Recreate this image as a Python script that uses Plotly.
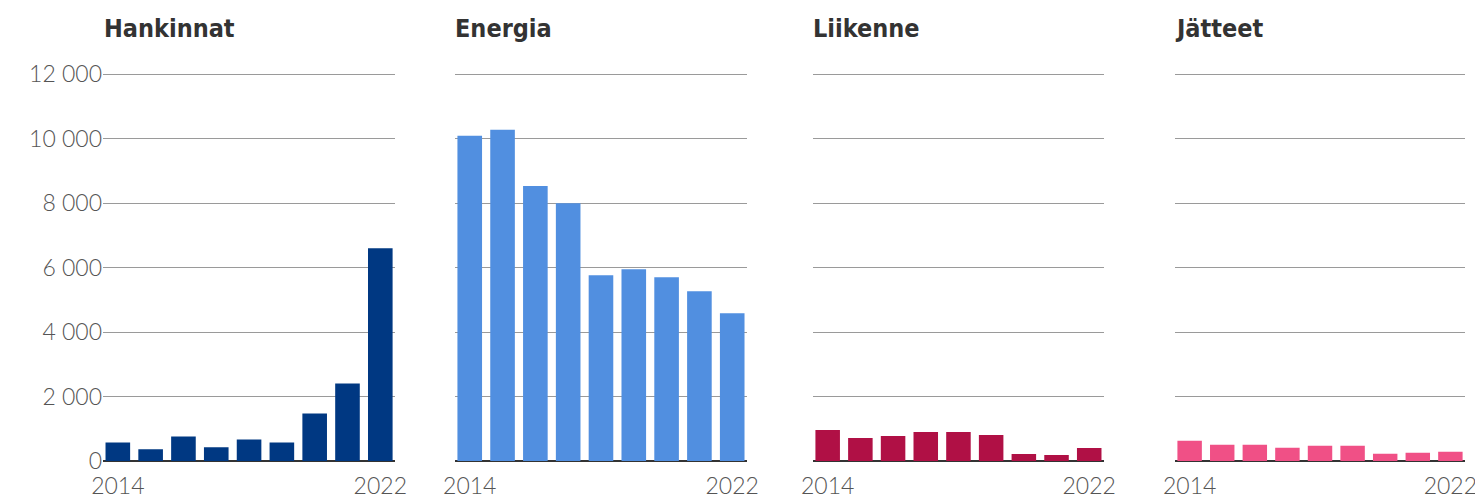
import plotly.graph_objects as go
from plotly.subplots import make_subplots

years = [2014, 2015, 2016, 2017, 2018, 2019, 2020, 2021, 2022]
titles = ["Hankinnat", "Energia", "Liikenne", "Jätteet"]

hankinnat = [578, 362, 764, 424, 671, 578, 1476, 2404, 6600]
energia = [10083, 10269, 8528, 7990, 5762, 5948, 5699, 5264, 4580]
liikenne = [964, 715, 777, 902, 902, 808, 218, 187, 404]
jatteet = [632, 508, 508, 415, 477, 477, 228, 259, 290]

series = [hankinnat, energia, liikenne, jatteet]
colors = ["#003882", "#518fe0", "#b01045", "#f05086"]

# panel positions as fractions of paper width (page body adds 8px offset)
domains = [(0.0641, 0.2610), (0.3014, 0.4983), (0.5428, 0.7390), (0.7869, 0.9825)]

tick_font = dict(family="Lato", size=23, color="#555555", weight=300)

fig = make_subplots(rows=1, cols=4)

for i, vals in enumerate(series):
    fig.add_trace(go.Bar(x=years, y=vals, marker_color=colors[i],
                         marker_line_width=0, showlegend=False,
                         hoverinfo="x+y"), row=1, col=i + 1)
    n = "" if i == 0 else str(i + 1)
    fig.layout["xaxis" + n].update(
        domain=domains[i], tickvals=[2014, 2022], ticktext=["2014", "2022"],
        showgrid=False, showline=False, ticks="", tickfont=tick_font,
        ticklabelstandoff=9,
        range=[2013.55, 2022.45], fixedrange=True, automargin=False)
    fig.layout["yaxis" + n].update(
        domain=[0.0885, 0.8736], range=[0, 12100],
        tickvals=[0, 2000, 4000, 6000, 8000, 10000, 12000],
        showticklabels=(i == 0), tickformat=",d", tickfont=tick_font,
        showgrid=True, gridcolor="#9a9a9a", gridwidth=1,
        zeroline=True, zerolinecolor="#333333", zerolinewidth=2,
        showline=False, ticks="", fixedrange=True, automargin=False)
    fig.add_annotation(text="<b>" + titles[i] + "</b>", xref="paper", yref="paper",
                       x=domains[i][0] - 0.001, y=0.959, xanchor="left", yanchor="middle",
                       showarrow=False,
                       font=dict(family="DejaVu Sans Condensed, Roboto", size=25, color="#333333"))

fig.update_layout(
    width=1483, height=497,
    margin=dict(l=0, r=0, t=0, b=0),
    paper_bgcolor="white", plot_bgcolor="white",
    bargap=0.25, separators=", ",
)

fig.write_html("out.html")
